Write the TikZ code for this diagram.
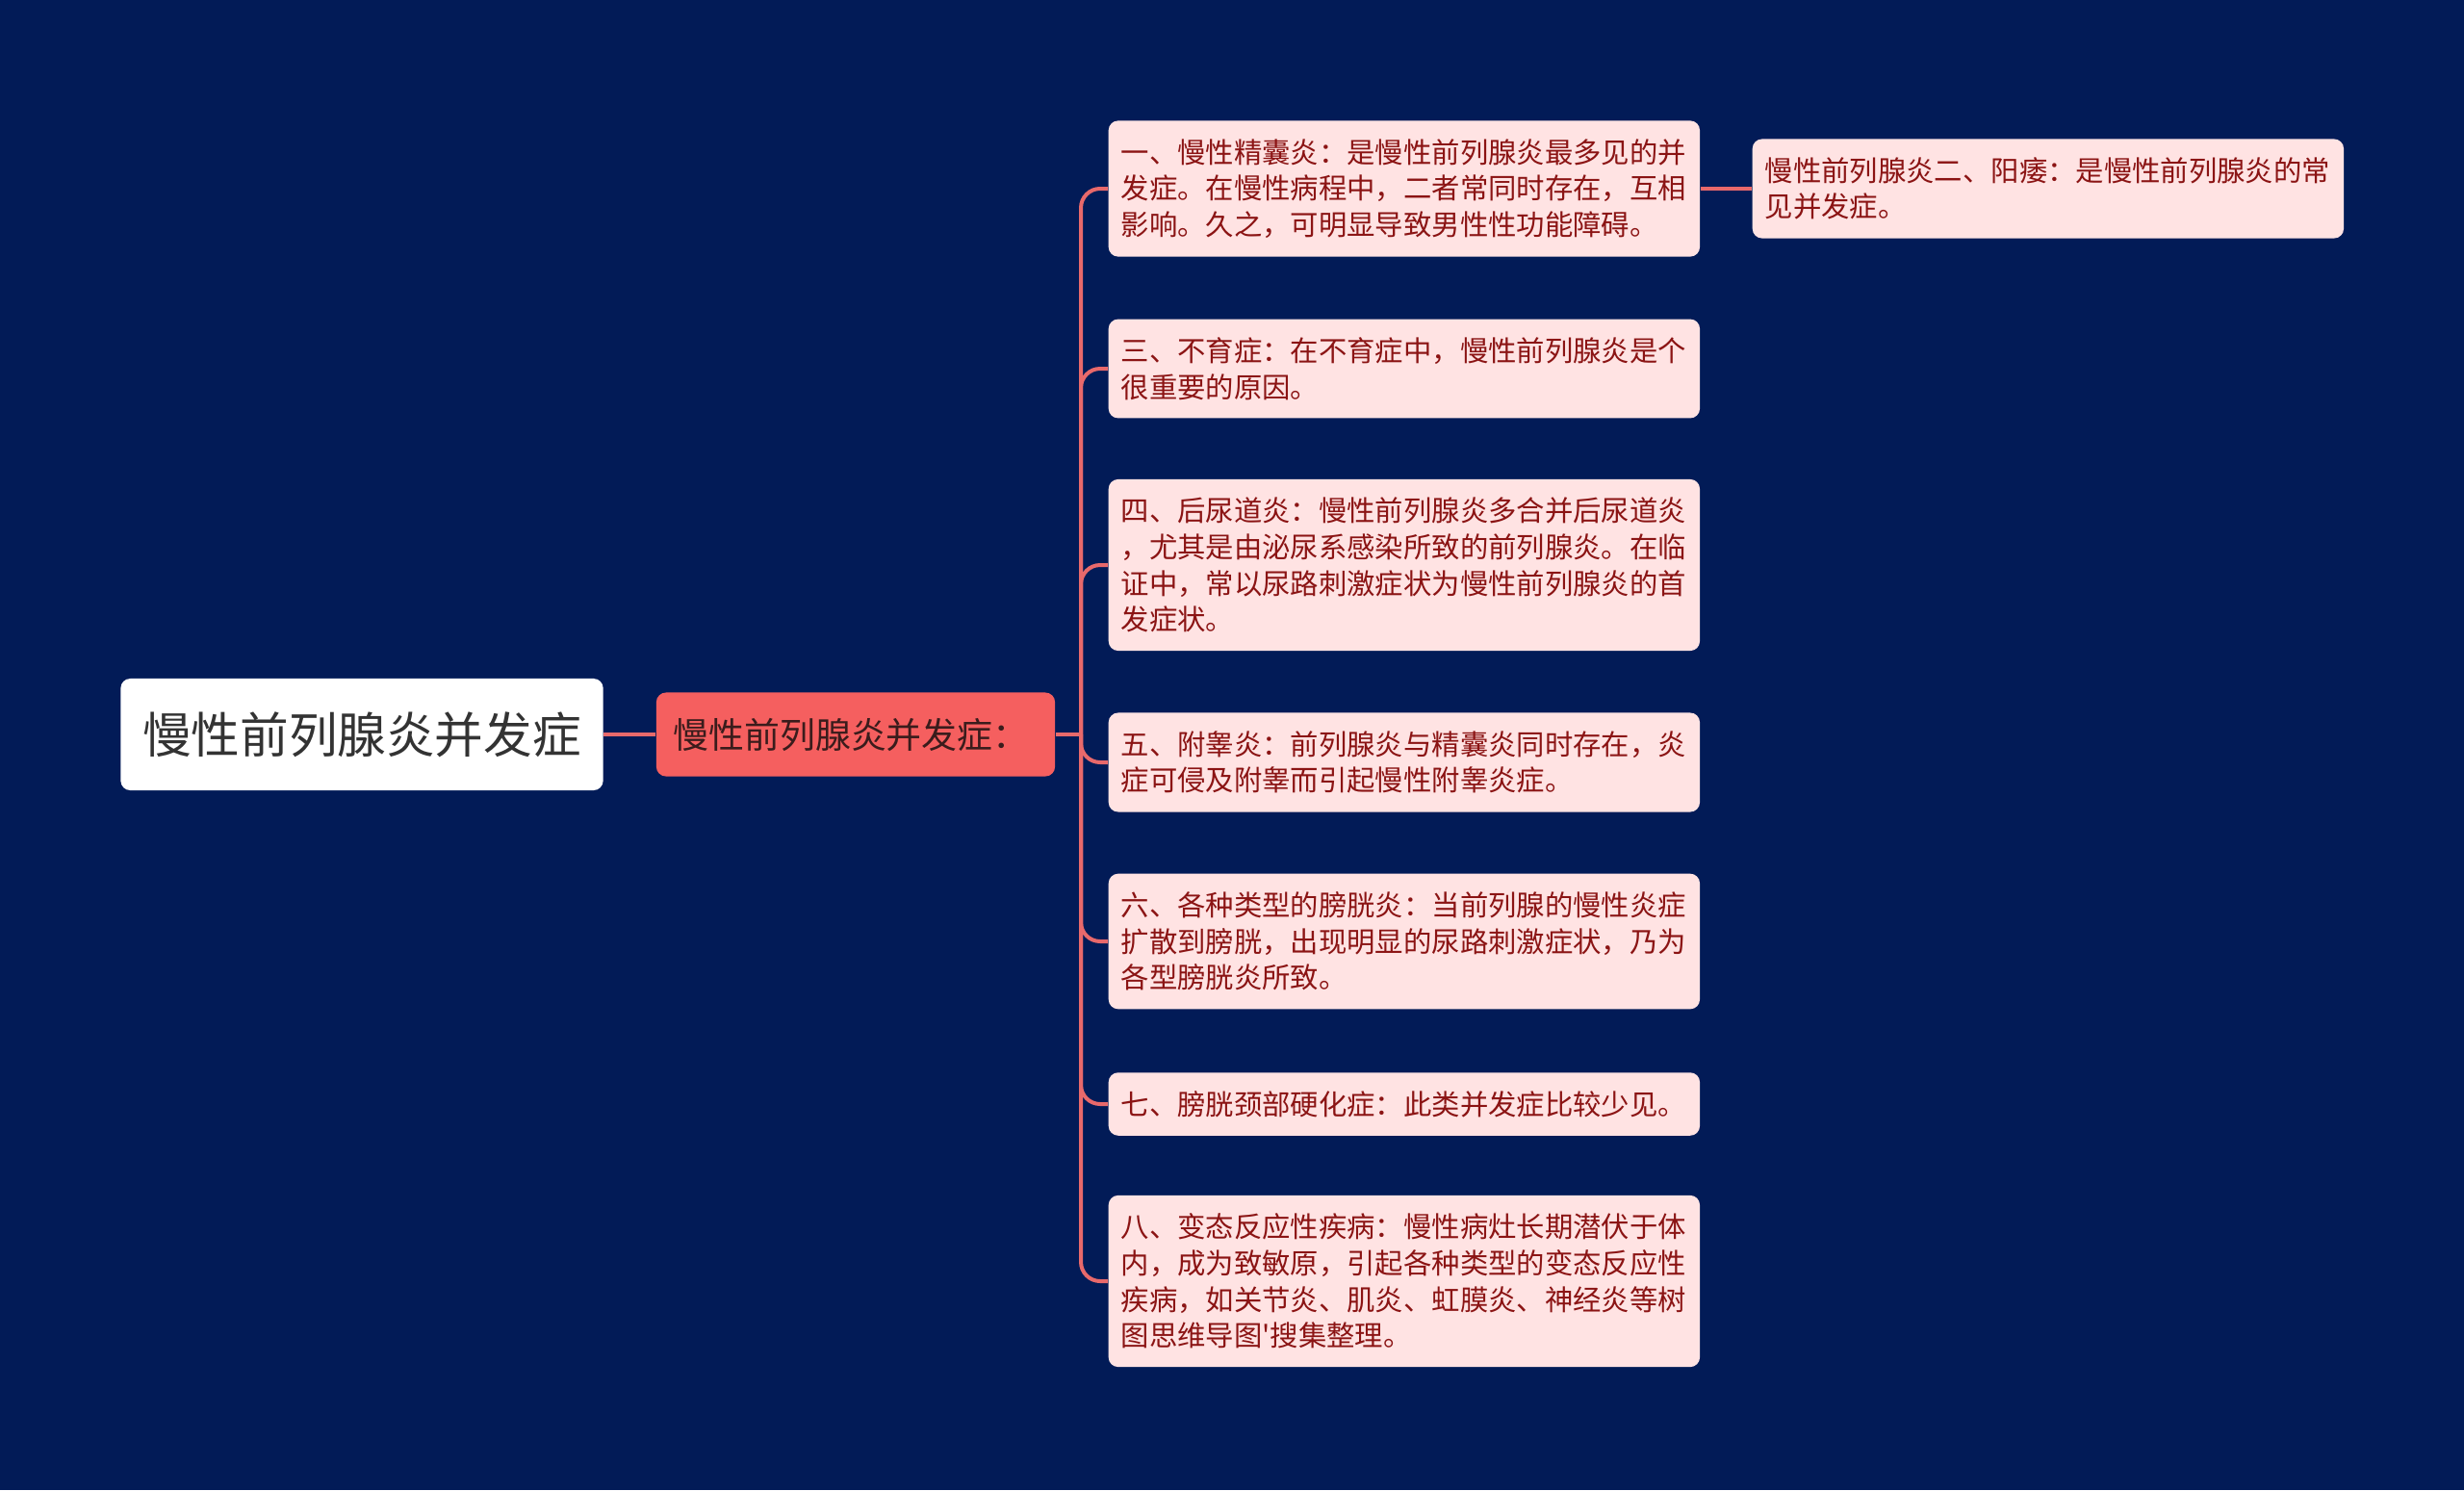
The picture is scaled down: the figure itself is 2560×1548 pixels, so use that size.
\documentclass[tikz,border=0pt]{standalone}
\usepackage{fontspec}
\setmainfont{Noto Sans CJK SC}
\definecolor{bgnavy}{HTML}{021B57}
\definecolor{rootgray}{HTML}{333333}
\definecolor{branchred}{HTML}{F55F5F}
\definecolor{branchtext}{HTML}{3A1C1C}
\definecolor{leafpink}{HTML}{FFE3E3}
\definecolor{leaftext}{HTML}{8B1414}
\definecolor{linkred}{HTML}{E8696B}
\begin{document}
\begin{tikzpicture}[
    x=0.01cm, y=-0.01cm,
    topic/.style={rectangle, rounded corners=0.1cm, fill=white, text=rootgray, font=\fontsize{14.4}{17}\selectfont, minimum width=5.01cm, minimum height=1.16cm, inner sep=0pt},
    branch/.style={rectangle, rounded corners=0.1cm, fill=branchred, text=branchtext, font=\fontsize{10.5}{12}\selectfont, minimum width=4.14cm, minimum height=0.87cm, inner sep=0pt},
    leaf/.style={rectangle, rounded corners=0.1cm, fill=leafpink, text=leaftext, font=\fontsize{8.35}{10.7}\selectfont, text width=5.88cm, inner xsep=0.13cm, inner ysep=0.19cm, align=left, anchor=west},
    link/.style={draw=linkred, line width=0.04cm, rounded corners=0.2cm},
]

% background
\fill[bgnavy] (0,0) rectangle (2560,1548);
\useasboundingbox (0,0) rectangle (2560,1548);

% Topic and main branch
\node[topic] (root) at (376,763) {慢性前列腺炎并发症};
\node[branch] (main) at (889,763) {\hspace*{-0.1cm}慢性前列腺炎并发症：};
\coordinate (hub) at (1123,763);

% Complications
\node[leaf] (seminal) at (1151,196) {一、慢性精囊炎：是慢性前列腺炎最多见的并\\发症。在慢性病程中，二者常同时存在，互相\\影响。久之，可明显导致男性性功能障碍。};
\node[leaf] (impotence) at (1820,196) {慢性前列腺炎二、阳痿：是慢性前列腺炎的常\\见并发症。};
\node[leaf] (infertile) at (1151,383) {三、不育症：在不育症中，慢性前列腺炎是个\\很重要的原因。};
\node[leaf] (urethra) at (1151,587) {四、后尿道炎：慢性前列腺炎多合并后尿道炎\\，尤其是由泌尿系感染所致的前列腺炎。在临\\证中，常以尿路刺激症状为慢性前列腺炎的首\\发症状。};
\node[leaf] (epid) at (1151,792) {五、附睾炎：前列腺炎与精囊炎同时存在，炎\\症可侵及附睾而引起慢性附睾炎症。};
\node[leaf] (bladder) at (1151,978) {六、各种类型的膀胱炎：当前列腺的慢性炎症\\扩散到膀胱，出现明显的尿路刺激症状，乃为\\各型膀胱炎所致。};
\node[leaf] (neck) at (1151,1147) {七、膀胱颈部硬化症：此类并发症比较少见。};
\node[leaf] (allergy) at (1151,1331) {八、变态反应性疾病：慢性病灶长期潜伏于体\\内，成为致敏原，引起各种类型的变态反应性\\疾病，如关节炎、肌炎、虹膜炎、神经炎等树\\图思维导图\textquotesingle 搜集整理。};

\draw[link] (root) -- (main);
\draw[link] (main) -- (hub);
\foreach \n in {seminal, infertile, urethra, epid, bladder, neck, allergy}
    \draw[link] (hub) |- (\n.west);
\draw[link] (seminal) -- (impotence);

\end{tikzpicture}
\end{document}
